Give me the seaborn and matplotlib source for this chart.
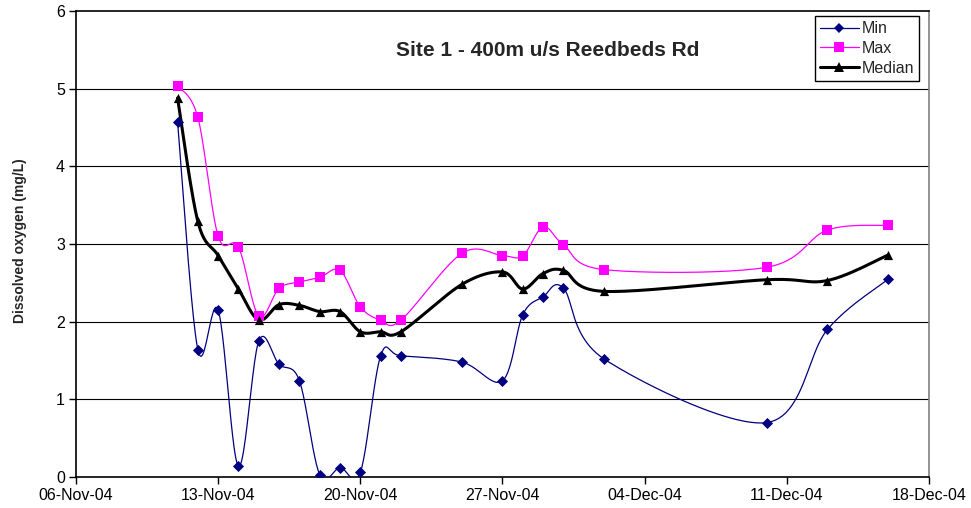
import numpy as np
import pandas as pd
import matplotlib
matplotlib.use("Agg")
import matplotlib.pyplot as plt
import matplotlib.dates as mdates
from matplotlib.lines import Line2D
import seaborn as sns

# ---- data ----
dates = ["2004-11-11", "2004-11-12", "2004-11-13", "2004-11-14", "2004-11-15",
         "2004-11-16", "2004-11-17", "2004-11-18", "2004-11-19", "2004-11-20",
         "2004-11-21", "2004-11-22", "2004-11-25", "2004-11-27", "2004-11-28",
         "2004-11-29", "2004-11-30", "2004-12-02", "2004-12-10", "2004-12-13",
         "2004-12-16"]
min_vals = [4.57, 1.64, 2.15, 0.14, 1.75, 1.45, 1.24, 0.03, 0.12, 0.06,
            1.56, 1.56, 1.48, 1.24, 2.09, 2.32, 2.43, 1.52, 0.70, 1.90, 2.55]
max_vals = [5.04, 4.63, 3.10, 2.96, 2.07, 2.43, 2.51, 2.57, 2.66, 2.19,
            2.02, 2.02, 2.88, 2.85, 2.85, 3.22, 2.99, 2.67, 2.70, 3.18, 3.24]
median_vals = [4.88, 3.29, 2.85, 2.42, 2.02, 2.22, 2.21, 2.13, 2.13, 1.87,
               1.87, 1.87, 2.48, 2.64, 2.42, 2.62, 2.66, 2.39, 2.54, 2.53, 2.86]
series_names = ["Min", "Max", "Median"]
tick_dates = ["2004-11-06", "2004-11-13", "2004-11-20", "2004-11-27",
              "2004-12-04", "2004-12-11", "2004-12-18"]
title_text = "Site 1 - 400m u/s Reedbeds Rd"
ylabel_text = "Dissolved oxygen (mg/L)"

colors = {"Min": "#000080", "Max": "#FF00FF", "Median": "#000000"}
markers = {"Min": "D", "Max": "s", "Median": "^"}
msizes = {"Min": 32, "Max": 42, "Median": 44}
lwidths = {"Min": 0.9, "Max": 0.9, "Median": 2.2}

x_num = mdates.date2num(pd.to_datetime(dates))
df = pd.DataFrame({"x": np.tile(x_num, 3),
                   "value": min_vals + max_vals + median_vals,
                   "series": np.repeat(series_names, len(dates))})


def smooth(xs, ys, n=24):
    """Excel-style smoothed line (Catmull-Rom Bezier) through the points."""
    P = np.column_stack([xs, ys]).astype(float)
    Pe = np.vstack([P[0], P, P[-1]])
    out = []
    t = np.linspace(0, 1, n, endpoint=False)[:, None]
    for i in range(len(P) - 1):
        p0, p1, p2, p3 = Pe[i], Pe[i + 1], Pe[i + 2], Pe[i + 3]
        c1 = p1 + (p2 - p0) / 6.0
        c2 = p2 - (p3 - p1) / 6.0
        b = ((1 - t) ** 3) * p1 + 3 * ((1 - t) ** 2) * t * c1 + 3 * (1 - t) * t ** 2 * c2 + t ** 3 * p2
        out.append(b)
    out.append(P[-1][None, :])
    arr = np.vstack(out)
    return arr[:, 0], arr[:, 1]


sns.set_style("white")
plt.rcParams["font.family"] = ["Liberation Sans", "DejaVu Sans"]

fig = plt.figure(figsize=(9.71, 5.08), dpi=100)
ax = fig.add_axes([76 / 971, 1 - 477 / 508, (929 - 76) / 971, (477 - 11) / 508])

for name in series_names:
    sub = df[df["series"] == name]
    sx, sy = smooth(sub["x"].values, sub["value"].values)
    sns.lineplot(x=sx, y=sy, ax=ax, color=colors[name], linewidth=lwidths[name],
                 sort=False, estimator=None, legend=False, zorder=3)
    sns.scatterplot(data=sub, x="x", y="value", ax=ax, color=colors[name],
                    marker=markers[name], s=msizes[name], linewidth=0,
                    legend=False, zorder=4)

ax.set_xlim(mdates.date2num(pd.Timestamp("2004-11-06")),
            mdates.date2num(pd.Timestamp("2004-12-18")))
ax.set_ylim(0, 6)
ax.set_xticks(mdates.date2num(pd.to_datetime(tick_dates)))
ax.xaxis.set_major_formatter(mdates.DateFormatter("%d-%b-%y"))
ax.set_yticks(range(0, 7))
ax.set_xlabel("")
ax.set_ylabel("")

for y in range(1, 6):
    ax.axhline(y, color="#000000", linewidth=0.8, zorder=1)

for side in ["left", "bottom", "top"]:
    ax.spines[side].set_color("#000000")
    ax.spines[side].set_linewidth(1.2)
ax.spines["right"].set_color("#808080")
ax.spines["right"].set_linewidth(1.2)

ax.tick_params(axis="both", direction="out", length=5, width=1, color="#000000",
               labelsize=11.5, labelcolor="#000000", pad=3)
ax.tick_params(axis="x", bottom=True)
ax.tick_params(axis="y", left=True)

fig.text(548 / 971, 1 - 50 / 508, title_text, ha="center", va="center",
         fontsize=15, fontweight="bold")
fig.text(20 / 971, 1 - 241 / 508, ylabel_text, ha="center", va="center",
         rotation=90, fontsize=10, fontweight="bold")

handles = [Line2D([0], [0], color=colors[n], lw=lwidths[n], marker=markers[n],
                  markersize={"Min": 5.5, "Max": 6.5, "Median": 6.5}[n],
                  markeredgewidth=0) for n in series_names]
leg = ax.legend(handles, series_names, loc="upper right",
                bbox_to_anchor=(919 / 971, 1 - 16.5 / 508),
                bbox_transform=fig.transFigure, fontsize=11.5, frameon=True,
                fancybox=False, shadow=False, borderpad=0.3, labelspacing=0.3,
                handlelength=2.4, handletextpad=0.2, borderaxespad=0)
leg.get_frame().set_edgecolor("#000000")
leg.get_frame().set_linewidth(1.0)
leg.get_frame().set_alpha(1)

fig.savefig("out.png", dpi=100)
